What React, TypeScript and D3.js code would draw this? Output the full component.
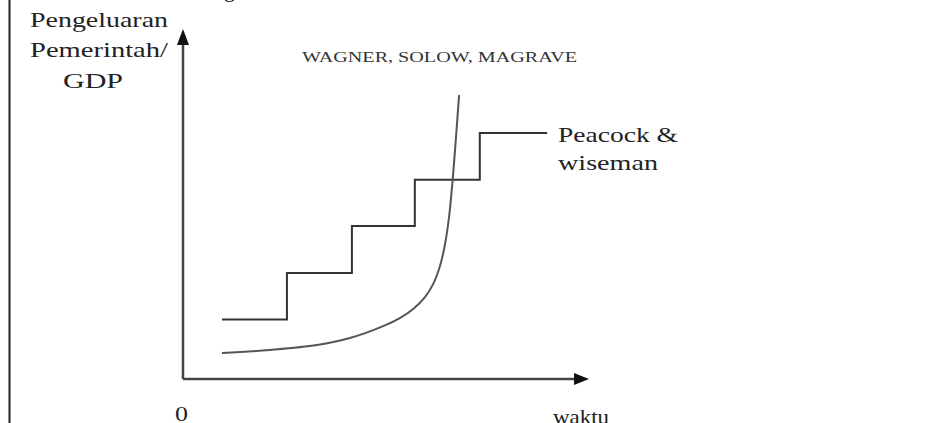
import React from "react";
import * as d3 from "d3";

// abstract units: time 0..10 on x, spending ratio 0..10 on y
const stepTimes = [0.96, 2.56, 4.16, 5.71, 7.31, 8.97];
const stepLevels = [1.7, 3.03, 4.37, 5.69, 7.03];

const curveTimes = [0.96, 2.14, 3.3, 4.11, 4.93, 5.34, 5.67, 5.96, 6.16, 6.33, 6.45, 6.55, 6.63, 6.7, 6.8];
const curveValues = [0.74, 0.83, 0.97, 1.17, 1.51, 1.74, 2.0, 2.34, 2.71, 3.23, 3.83, 4.6, 5.54, 6.54, 8.11];

const yTitleLines = ["Pengeluaran", "Pemerintah/", "GDP"];
const curveLabel = "WAGNER, SOLOW, MAGRAVE";
const stepLabelLines = ["Peacock &", "wiseman"];
const originLabel = "0";
const xLabel = "waktu";

const width = 951;
const height = 423;
const font = "'Times New Roman', 'Liberation Serif', 'DejaVu Serif', serif";

export default function App() {
  const x = d3.scaleLinear().domain([0, 10]).range([183, 589]);
  const y = d3.scaleLinear().domain([0, 10]).range([379, 29]);

  // staircase for Peacock & Wiseman
  const stepPts: [number, number][] = [];
  stepLevels.forEach((lv, i) => {
    stepPts.push([stepTimes[i], lv]);
    stepPts.push([stepTimes[i + 1], lv]);
  });
  const stepLine = d3
    .line<[number, number]>()
    .x((d) => x(d[0]))
    .y((d) => y(d[1]))
    .curve(d3.curveLinear);

  const curvePts: [number, number][] = curveTimes.map((t, i) => [t, curveValues[i]]);
  const curveLine = d3
    .line<[number, number]>()
    .x((d) => x(d[0]))
    .y((d) => y(d[1]))
    .curve(d3.curveCatmullRom.alpha(0.5));

  const x0 = x(0),
    y0 = y(0),
    xEnd = x(10),
    yEnd = y(10);

  const txt = { fontFamily: font };

  return (
    <svg
      width={width}
      height={height}
      style={{ position: "absolute", left: 0, top: 0, background: "#fff" }}
    >
      {/* frame edge on the left */}
      <line x1={9.5} y1={0} x2={9.5} y2={height} stroke="#222" strokeWidth={2} />

      {/* clipped text fragment at the very top */}
      <text x={224} y={-3} style={txt} fontSize={22} fill="#111">
        g
      </text>

      {/* axes */}
      <line x1={x0} y1={y0} x2={x0} y2={yEnd + 14} stroke="#444" strokeWidth={2.5} />
      <path
        d={`M${x0},${yEnd} L${x0 - 6},${yEnd + 16} L${x0 + 6},${yEnd + 16} Z`}
        fill="#111"
      />
      <line x1={x0} y1={y0} x2={xEnd - 14} y2={y0} stroke="#444" strokeWidth={2.5} />
      <path
        d={`M${xEnd},${y0} L${xEnd - 15},${y0 - 6} L${xEnd - 15},${y0 + 6} Z`}
        fill="#111"
      />

      {/* series */}
      <path d={stepLine(stepPts) || ""} fill="none" stroke="#333" strokeWidth={2} />
      <path d={curveLine(curvePts) || ""} fill="none" stroke="#555" strokeWidth={2} />

      {/* y title */}
      <g style={txt} fontSize={22} fill="#222">
        <text x={30} y={27} textLength={138} lengthAdjust="spacingAndGlyphs">
          {yTitleLines[0]}
        </text>
        <text x={30} y={57} textLength={138} lengthAdjust="spacingAndGlyphs">
          {yTitleLines[1]}
        </text>
        <text x={63} y={88} textLength={60} lengthAdjust="spacingAndGlyphs">
          {yTitleLines[2]}
        </text>
      </g>

      <text
        x={302}
        y={62}
        style={txt}
        fontSize={15}
        fill="#333"
        textLength={275}
        lengthAdjust="spacingAndGlyphs"
      >
        {curveLabel}
      </text>

      <g style={txt} fontSize={22} fill="#222">
        <text x={558} y={142} textLength={120} lengthAdjust="spacingAndGlyphs">
          {stepLabelLines[0]}
        </text>
        <text x={558} y={170} textLength={100} lengthAdjust="spacingAndGlyphs">
          {stepLabelLines[1]}
        </text>
      </g>

      <g style={txt} fontSize={22} fill="#222">
        <text x={175} y={421} textLength={13} lengthAdjust="spacingAndGlyphs">
          {originLabel}
        </text>
        <text x={553} y={424} textLength={56} lengthAdjust="spacingAndGlyphs">
          {xLabel}
        </text>
      </g>
    </svg>
  );
}
